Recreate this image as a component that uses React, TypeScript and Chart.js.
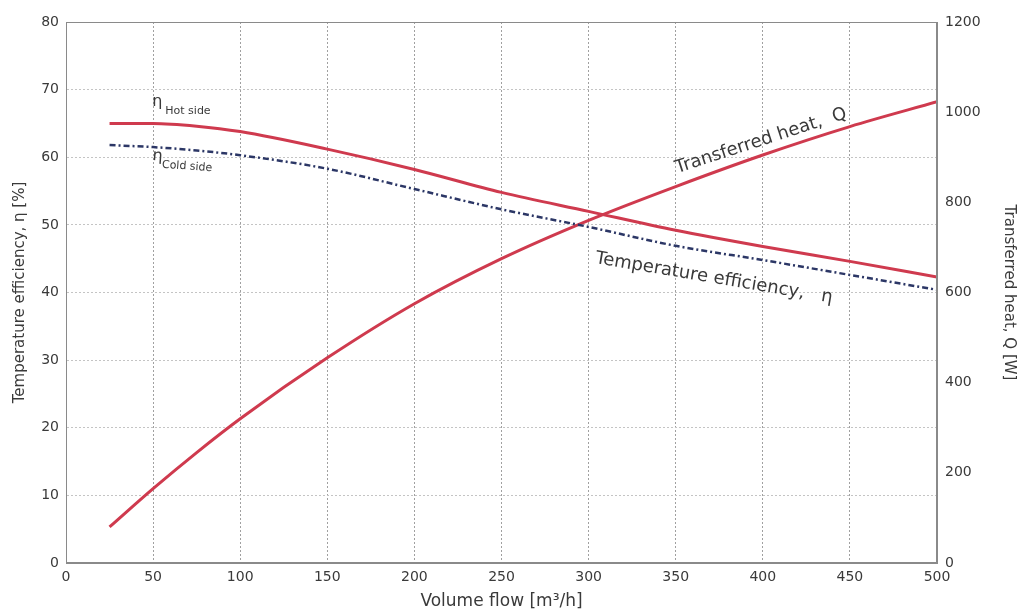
import React, { useEffect, useRef } from "react";
import { Chart, registerables } from "chart.js";

Chart.register(...registerables);

const flowX = [25, 50, 75, 100, 150, 200, 250, 300, 350, 400, 450, 500];
const etaHot = [65.0, 65.0, 64.6, 63.8, 61.2, 58.2, 54.8, 52.0, 49.2, 46.8, 44.6, 42.3];
const etaCold = [61.8, 61.5, 61.0, 60.3, 58.3, 55.3, 52.3, 49.7, 46.9, 44.8, 42.6, 40.4];
const heatQ = [80, 165, 245, 320, 455, 575, 675, 760, 835, 905, 968, 1023];

const xTicks = [0, 50, 100, 150, 200, 250, 300, 350, 400, 450, 500];
const yLeftTicks = [0, 10, 20, 30, 40, 50, 60, 70, 80];
const yRightTicks = [0, 200, 400, 600, 800, 1000, 1200];

const FONT = "'DejaVu Sans', Arial, sans-serif";
const TEXT = "#3a3a3a";
const RED = "#cf3a4e";
const COLD = "#2c3766";

const annotationPlugin = {
  id: "annotations",
  afterDatasetsDraw(chart: any) {
    const { ctx, scales } = chart;
    const xs = scales.x;
    const ys = scales.y;
    const px = (v: number) => xs.getPixelForValue(v);
    const py = (v: number) => ys.getPixelForValue(v);
    ctx.save();
    ctx.fillStyle = TEXT;
    ctx.textBaseline = "alphabetic";
    ctx.textAlign = "left";

    // eta hot side
    ctx.font = `16px ${FONT}`;
    ctx.fillText("η", px(49.5), py(67.6));
    ctx.font = `11px ${FONT}`;
    ctx.fillText("Hot side", px(57), py(66.4));

    // eta cold side
    ctx.save();
    ctx.translate(px(49.5), py(59.6));
    ctx.rotate((4 * Math.PI) / 180);
    ctx.font = `16px ${FONT}`;
    ctx.fillText("η", 0, 0);
    ctx.font = `11px ${FONT}`;
    ctx.fillText("Cold side", 10, 7);
    ctx.restore();

    // transferred heat label
    ctx.save();
    ctx.translate(px(399), py(62.4));
    ctx.rotate((-18 * Math.PI) / 180);
    ctx.textAlign = "center";
    ctx.textBaseline = "middle";
    ctx.font = `18px ${FONT}`;
    ctx.fillText("Transferred heat,  Q", 0, 0);
    ctx.restore();

    // temperature efficiency label
    ctx.save();
    ctx.translate(px(372), py(42.1));
    ctx.rotate((9.5 * Math.PI) / 180);
    ctx.textAlign = "center";
    ctx.textBaseline = "middle";
    ctx.font = `18px ${FONT}`;
    ctx.fillText("Temperature efficiency,   η", 0, 0);
    ctx.restore();

    // frame
    const a = chart.chartArea;
    ctx.strokeStyle = "#8a8a8a";
    ctx.lineWidth = 1;
    ctx.strokeRect(a.left + 0.5, a.top + 0.5, a.right - a.left - 1, a.bottom - a.top - 1);
    ctx.restore();
  },
};

const plain = (v: any) => String(v);

export default function App() {
  const ref = useRef<HTMLCanvasElement | null>(null);

  useEffect(() => {
    if (!ref.current) return;
    const chart = new Chart(ref.current, {
      type: "line",
      data: {
        datasets: [
          {
            label: "η Hot side",
            data: flowX.map((x, i) => ({ x, y: etaHot[i] })),
            borderColor: RED,
            borderWidth: 3,
            pointRadius: 0,
            cubicInterpolationMode: "monotone",
            yAxisID: "y",
          },
          {
            label: "η Cold side",
            data: flowX.map((x, i) => ({ x, y: etaCold[i] })),
            borderColor: COLD,
            borderWidth: 2.5,
            borderDash: [6, 3, 2, 3],
            pointRadius: 0,
            cubicInterpolationMode: "monotone",
            yAxisID: "y",
          },
          {
            label: "Transferred heat, Q",
            data: flowX.map((x, i) => ({ x, y: heatQ[i] })),
            borderColor: RED,
            borderWidth: 3,
            pointRadius: 0,
            cubicInterpolationMode: "monotone",
            yAxisID: "y2",
          },
        ],
      },
      options: {
        animation: false,
        responsive: false,
        maintainAspectRatio: false,
        layout: { padding: { top: 22, left: 0, right: 0, bottom: 0 } },
        plugins: { legend: { display: false }, tooltip: { enabled: false } },
        scales: {
          x: {
            type: "linear",
            min: 0,
            max: 500,
            afterBuildTicks: (s: any) => {
              s.ticks = xTicks.map((v) => ({ value: v }));
            },
            afterFit: (s: any) => {
              s.height = 49;
            },
            ticks: { color: TEXT, font: { family: FONT, size: 14 }, padding: 6, maxRotation: 0, callback: plain },
            grid: { color: "#a0a0a0", lineWidth: 1, drawTicks: false },
            border: { display: true, color: "#8a8a8a", dash: [2, 2] },
            title: {
              display: true,
              text: "Volume flow [m³/h]",
              color: TEXT,
              font: { family: FONT, size: 17 },
              padding: { top: 0, bottom: 0 },
            },
          },
          y: {
            type: "linear",
            position: "left",
            min: 0,
            max: 80,
            afterBuildTicks: (s: any) => {
              s.ticks = yLeftTicks.map((v) => ({ value: v }));
            },
            afterFit: (s: any) => {
              s.width = 66;
            },
            ticks: { color: TEXT, font: { family: FONT, size: 14 }, padding: 7, callback: plain },
            grid: { color: "#c4c4c4", lineWidth: 1, drawTicks: false },
            border: { display: true, color: "#8a8a8a", dash: [2, 2] },
            title: {
              display: true,
              text: "Temperature efficiency, η [%]",
              color: TEXT,
              font: { family: FONT, size: 15 },
              padding: { top: 11, bottom: 0 },
            },
          },
          y2: {
            type: "linear",
            position: "right",
            min: 0,
            max: 1200,
            afterBuildTicks: (s: any) => {
              s.ticks = yRightTicks.map((v) => ({ value: v }));
            },
            afterFit: (s: any) => {
              s.width = 85;
            },
            ticks: { color: TEXT, font: { family: FONT, size: 14 }, padding: 8, callback: plain },
            grid: { drawOnChartArea: false, drawTicks: false },
            border: { display: true, color: "#8a8a8a" },
            title: {
              display: true,
              text: "Transferred heat, Q [W]",
              color: TEXT,
              font: { family: FONT, size: 15 },
              padding: { top: 4, bottom: 0 },
            },
          },
        },
      },
      plugins: [annotationPlugin],
    } as any);
    return () => chart.destroy();
  }, []);

  return (
    <div style={{ position: "fixed", left: 0, top: 0, width: 1022, height: 612, background: "#fff" }}>
      <canvas ref={ref} width={1022} height={612} style={{ width: 1022, height: 612, display: "block" }} />
    </div>
  );
}
